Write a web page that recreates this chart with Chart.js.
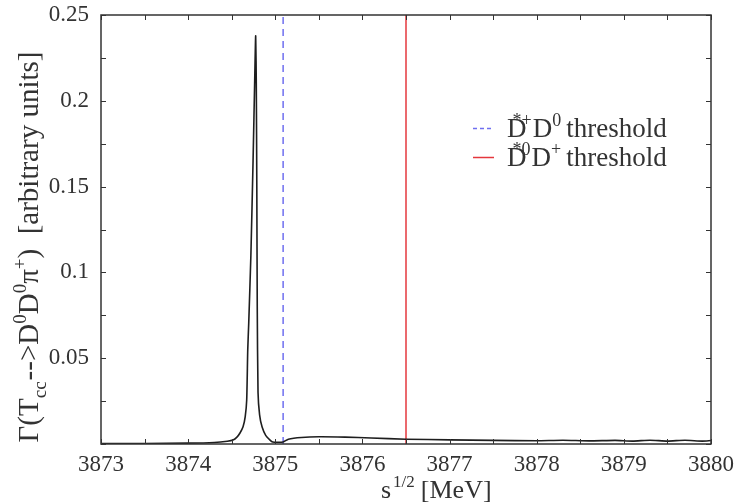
<!DOCTYPE html>
<html>
<head>
<meta charset="utf-8">
<script src="https://cdn.jsdelivr.net/npm/chart.js@4"></script>
<style>
  html, body { margin: 0; padding: 0; background: #fff; }
  #wrap { width: 737px; height: 504px; }
</style>
</head>
<body>
<div id="wrap"><canvas id="chart" width="737" height="504"></canvas></div>
<script>
// data
const sqrtS = [3873.0, 3873.5, 3874.0, 3874.3, 3874.45, 3874.515, 3874.56, 3874.595, 3874.63, 3874.655, 3874.672, 3874.684, 3874.695, 3874.72, 3874.745, 3874.765, 3874.775, 3874.782, 3874.788, 3874.793, 3874.802, 3874.82, 3874.848, 3874.89, 3874.94, 3874.97, 3875.03, 3875.09, 3875.15, 3875.3, 3875.5, 3875.8, 3876.1, 3876.5, 3877.0, 3877.5, 3878.0, 3878.3, 3878.6, 3878.9, 3879.1, 3879.3, 3879.5, 3879.7, 3879.9, 3880.0];
const width = [0.0002, 0.0003, 0.0005, 0.0009, 0.0016, 0.0023, 0.0040, 0.0064, 0.0100, 0.0160, 0.0256, 0.0550, 0.0700, 0.1100, 0.1650, 0.2150, 0.2378, 0.2100, 0.1500, 0.0800, 0.0300, 0.0170, 0.0100, 0.0050, 0.0023, 0.0012, 0.0010, 0.0012, 0.0028, 0.0038, 0.0042, 0.0040, 0.0035, 0.0028, 0.0024, 0.0021, 0.0019, 0.0022, 0.0018, 0.0021, 0.0017, 0.0022, 0.0017, 0.0022, 0.0017, 0.0020];
const thresholdDstarPlusD0 = 3875.09;
const thresholdDstar0DPlus = 3876.5;
const xTicks = [3873, 3874, 3875, 3876, 3877, 3878, 3879, 3880];
const yTicks = [0.05, 0.1, 0.15, 0.2, 0.25];

const SERIF = '"Liberation Serif", "DejaVu Serif", serif';
const TXT = '#333';

// text pieces with super/subscripts
function richWidth(ctx, parts, size) {
    let w = 0;
    parts.forEach(p => {
        ctx.font = (p.s ? Math.round(size * 0.65) : size) + 'px ' + SERIF;
        w += ctx.measureText(p.t).width + (p.gap || 0);
    });
    return w;
}
function drawRich(ctx, parts, x, y, size) {
    parts.forEach(p => {
        const small = p.s === 'sup' || p.s === 'sub';
        ctx.font = (small ? Math.round(size * 0.65) : size) + 'px ' + SERIF;
        const dy = p.s === 'sup' ? -size * 0.42 : p.s === 'sub' ? size * 0.28 : 0;
        ctx.fillText(p.t, x, y + dy);
        x += ctx.measureText(p.t).width + (p.gap || 0);
    });
}

const framePlugin = {
    id: 'frame',
    afterDraw(chart) {
        const ctx = chart.ctx, a = chart.chartArea;
        const xs = chart.scales.x, ys = chart.scales.y;
        ctx.save();
        ctx.strokeStyle = '#333';
        ctx.lineWidth = 1.5;
        ctx.strokeRect(a.left, a.top, a.right - a.left, a.bottom - a.top);
        // inward ticks on all sides
        ctx.lineWidth = 1;
        for (let v = 3873; v <= 3880.001; v += 0.5) {
            const px = Math.round(xs.getPixelForValue(v)) + 0.5;
            ctx.beginPath();
            ctx.moveTo(px, a.bottom); ctx.lineTo(px, a.bottom - 5);
            ctx.moveTo(px, a.top); ctx.lineTo(px, a.top + 5);
            ctx.stroke();
        }
        for (let v = 0; v <= 0.2501; v += 0.025) {
            const py = Math.round(ys.getPixelForValue(v)) + 0.5;
            ctx.beginPath();
            ctx.moveTo(a.left, py); ctx.lineTo(a.left + 5, py);
            ctx.moveTo(a.right, py); ctx.lineTo(a.right - 5, py);
            ctx.stroke();
        }
        ctx.fillStyle = TXT;
        ctx.textBaseline = 'alphabetic';
        // x title: s^{1/2} [MeV]
        drawRich(ctx, [{ t: 's', gap: 2 }, { t: '1/2', s: 'sup', gap: 6 }, { t: '[MeV]' }], 381, 498, 26);
        // y title
        const yt = [{ t: 'Γ(T' }, { t: 'cc', s: 'sub', gap: 1 }, { t: '-->D' }, { t: '0', s: 'sup' }, { t: 'D' },
                    { t: '0', s: 'sup' }, { t: 'π' }, { t: '+', s: 'sup' }, { t: ')  [arbitrary units]' }];
        const yw = richWidth(ctx, yt, 29);
        ctx.translate(38, 247);
        ctx.rotate(-Math.PI / 2);
        drawRich(ctx, yt, -yw / 2, 0, 29);
        ctx.restore();
        // legend
        ctx.save();
        ctx.lineWidth = 1.5;
        ctx.strokeStyle = '#6f6ff0';
        ctx.setLineDash([4, 3]);
        ctx.beginPath(); ctx.moveTo(473, 128.5); ctx.lineTo(494, 128.5); ctx.stroke();
        ctx.setLineDash([]);
        ctx.strokeStyle = '#e4373d';
        ctx.beginPath(); ctx.moveTo(473, 157.5); ctx.lineTo(494, 157.5); ctx.stroke();
        ctx.fillStyle = TXT;
        drawRich(ctx, [{ t: 'D', gap: -14 }, { t: '*+', s: 'sup', gap: 1 }, { t: 'D' }, { t: '0', s: 'sup', gap: 5 }, { t: 'threshold' }], 507, 137, 27);
        drawRich(ctx, [{ t: 'D', gap: -14 }, { t: '*0', s: 'sup', gap: 1 }, { t: 'D' }, { t: '+', s: 'sup', gap: 5 }, { t: 'threshold' }], 507, 166, 27);
        ctx.restore();
    }
};

const curve = sqrtS.map((x, i) => ({ x: x, y: width[i] }));

new Chart(document.getElementById('chart'), {
    type: 'line',
    data: {
        datasets: [
            { label: 'Gamma', data: curve, borderColor: '#1e1e1e', borderWidth: 1.6, pointRadius: 0, tension: 0.2, order: 1 },
            { label: 'D*+D0 threshold', data: [{ x: thresholdDstarPlusD0, y: 0 }, { x: thresholdDstarPlusD0, y: 0.25 }], borderColor: '#6f6ff0', borderWidth: 1.5, borderDash: [7, 5], pointRadius: 0, order: 2 },
            { label: 'D*0D+ threshold', data: [{ x: thresholdDstar0DPlus, y: 0 }, { x: thresholdDstar0DPlus, y: 0.25 }], borderColor: '#e4373d', borderWidth: 1.5, pointRadius: 0, order: 3 }
        ]
    },
    options: {
        responsive: false,
        animation: false,
        layout: { padding: { top: 15, right: 26, left: 0, bottom: 0 } },
        plugins: { legend: { display: false }, tooltip: { enabled: false } },
        scales: {
            x: {
                type: 'linear', min: 3873, max: 3880,
                afterBuildTicks: s => { s.ticks = xTicks.map(v => ({ value: v })); },
                afterFit: s => { s.height = 60; s.paddingLeft = 0; s.paddingRight = 0; },
                grid: { display: false, drawTicks: false },
                border: { display: false },
                ticks: { color: TXT, padding: 7, font: { family: SERIF, size: 23 }, callback: v => String(v), maxRotation: 0, autoSkip: false }
            },
            y: {
                type: 'linear', min: 0, max: 0.25,
                afterBuildTicks: s => { s.ticks = yTicks.map(v => ({ value: v })); },
                afterFit: s => { s.width = 101; s.paddingTop = 0; s.paddingBottom = 0; },
                grid: { display: false, drawTicks: false },
                border: { display: false },
                ticks: { color: TXT, padding: 12, font: { family: SERIF, size: 23 }, callback: v => String(v) }
            }
        }
    },
    plugins: [framePlugin]
});
</script>
</body>
</html>
